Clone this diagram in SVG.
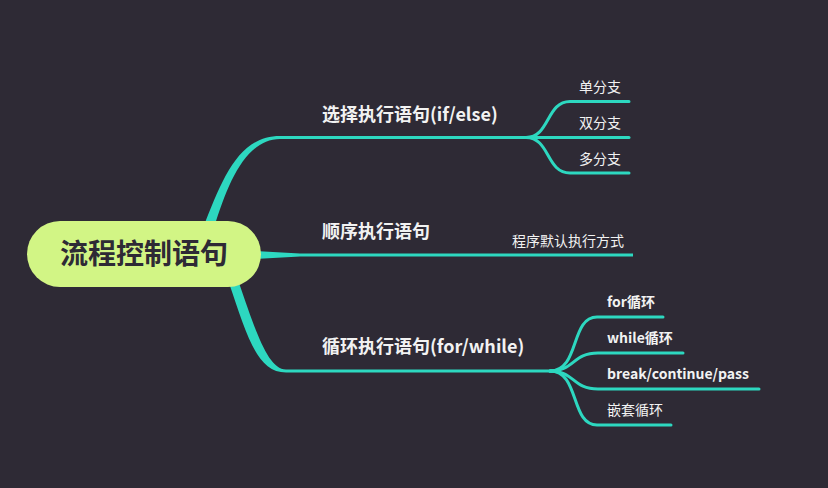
<svg xmlns="http://www.w3.org/2000/svg" width="828" height="488" viewBox="0 0 828 488">
<style>
.bg{fill:#2e2a35}
.br{fill:#2dd8c0}
.ln{fill:none;stroke:#2dd8c0;stroke-width:3;stroke-linecap:round}
.t1{font-family:"Noto Sans CJK SC","Noto Sans",sans-serif;font-size:18px;font-weight:bold;fill:#f2f2f2}
.t2{font-family:"Noto Sans CJK SC","Noto Sans",sans-serif;font-size:14px;fill:#f2f2f2}
.t2b{font-family:"Noto Sans CJK SC","Noto Sans",sans-serif;font-size:14px;font-weight:bold;fill:#f2f2f2}
.root{fill:#d2f585}
.rt{font-family:"Noto Sans CJK SC","Noto Sans",sans-serif;font-size:28px;font-weight:bold;fill:#2e2a35}
</style>
<rect class="bg" x="0" y="0" width="828" height="488"/>
<g id="connectors">
<path class="br" d="M203,228 C222,180 238,136 280,136 L530,136 L530,139 L280,139 C246,139.5 228,182 214,228 Z"/>
<path class="br" d="M255,251 L300,253.5 L633,253.5 L633,256.5 L300,256.5 L255,259 Z"/>
<path class="br" d="M229,283 C246,332 256,372.5 286,372.5 L552,372.5 L552,369.5 L286,369.5 C268,369.5 256,332 239,283 Z"/>
<path class="ln" d="M526,137.5 C550,137.5 546,101.5 570,101.5 H629"/>
<path class="ln" d="M526,137.5 H629"/>
<path class="ln" d="M526,137.5 C550,137.5 546,173 570,173 H629"/>
<path class="ln" d="M550,371 C580,371 570,317 597,317 H663"/>
<path class="ln" d="M550,371 C575,371 572,353 598,353 H683"/>
<path class="ln" d="M550,371 C575,371 572,389 598,389 H759"/>
<path class="ln" d="M550,371 C580,371 570,425 597,425 H671"/>
</g>
<g id="root">
<rect class="root" x="27" y="221" width="234" height="66" rx="33"/>
<text class="rt" x="144" y="264" text-anchor="middle">流程控制语句</text>
</g>
<g id="n-select"><text class="t1" x="322" y="121">选择执行语句(if/else)</text></g>
<g id="n-single"><text class="t2" x="579" y="92">单分支</text></g>
<g id="n-double"><text class="t2" x="579" y="128">双分支</text></g>
<g id="n-multi"><text class="t2" x="579" y="164">多分支</text></g>
<g id="n-seq"><text class="t1" x="322" y="238">顺序执行语句</text></g>
<g id="n-default"><text class="t2" x="512" y="246">程序默认执行方式</text></g>
<g id="n-loop"><text class="t1" x="322" y="353">循环执行语句(for/while)</text></g>
<g id="n-for"><text class="t2b" x="607" y="307">for循环</text></g>
<g id="n-while"><text class="t2b" x="607" y="343">while循环</text></g>
<g id="n-break"><text class="t2b" x="607" y="379">break/continue/pass</text></g>
<g id="n-nest"><text class="t2" x="607" y="415">嵌套循环</text></g>
</svg>
